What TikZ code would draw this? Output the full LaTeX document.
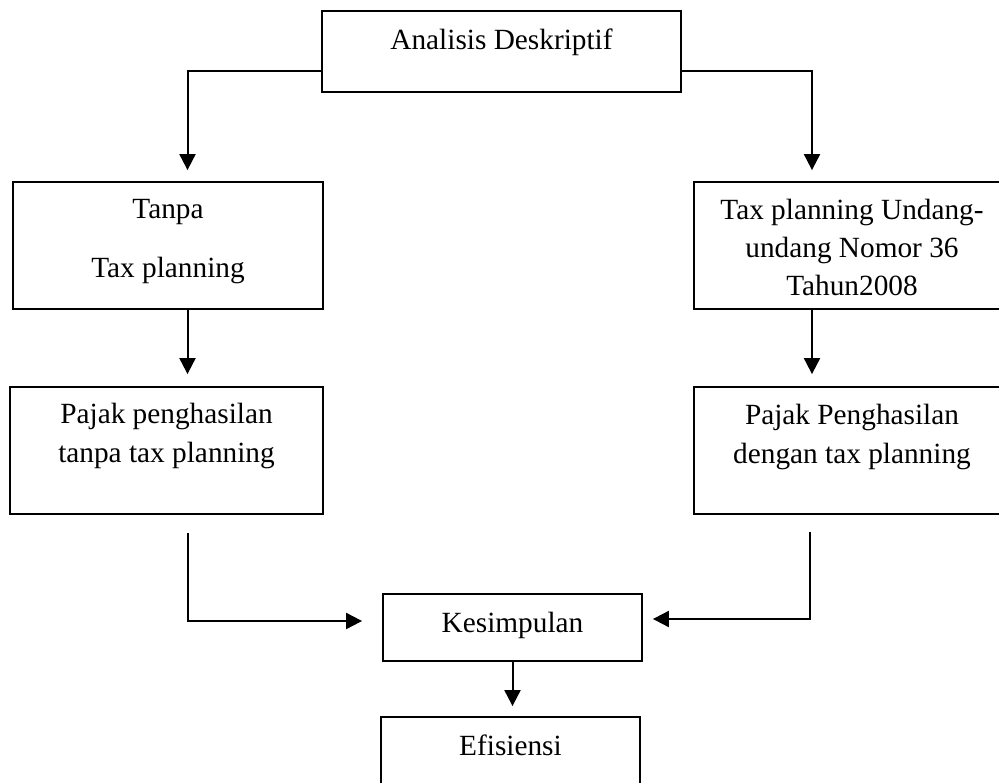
\documentclass[tikz,border=0pt]{standalone}
\usepackage{fontspec}
\setmainfont{Liberation Serif}
\usetikzlibrary{arrows.meta,calc}
\begin{document}
\begin{tikzpicture}[x=1pt,y=-1pt,
  box/.style={draw,line width=1.8pt,rectangle,inner sep=0pt},
  lbl/.style={font=\fontsize{29.3}{37}\selectfont,inner sep=0pt,anchor=base},
  conn/.style={line width=2pt},
  arr/.style={conn,-{Triangle[width=16pt,length=16pt]}}]
\useasboundingbox (0,0) rectangle (999,783);
\clip (0,0) rectangle (999,783);
% boxes
\node[box,minimum width=359pt,minimum height=81pt] (top) at (501.5,51.5) {};
\node[box,minimum width=310pt,minimum height=127pt] (left1) at (168,245.5) {};
\node[box,minimum width=316pt,minimum height=127pt] (right1) at (852,245.5) {};
\node[box,minimum width=313pt,minimum height=127pt] (left2) at (166.5,450.5) {};
\node[box,minimum width=316pt,minimum height=127pt] (right2) at (852,450.5) {};
\node[box,minimum width=259pt,minimum height=67pt] (kes) at (512.5,627.5) {};
\node[box,minimum width=259pt,minimum height=93pt] (efi) at (510.5,763.5) {};
% texts
\node[lbl] (ttop) at (501.5,50) {Analisis Deskriptif};
\node[lbl] (tl1a) at (168,219) {Tanpa};
\node[lbl] (tl1b) at (168,278) {Tax planning};
\node[lbl] (tr1a) at (852,220) {Tax planning Undang-};
\node[lbl] (tr1b) at (852,258) {undang Nomor 36};
\node[lbl] (tr1c) at (852,296) {Tahun2008};
\node[lbl] (tl2a) at (166.5,424) {Pajak penghasilan};
\node[lbl] (tl2b) at (166.5,463) {tanpa tax planning};
\node[lbl] (tr2a) at (852,425) {Pajak Penghasilan};
\node[lbl] (tr2b) at (852,464) {dengan tax planning};
\node[lbl] (tkes) at (512.5,632) {Kesimpulan};
\node[lbl] (tefi) at (510.5,755) {Efisiensi};
% helper coordinates
\coordinate (ytop) at (0,71);
\coordinate (xl) at (187.5,0);
\coordinate (xr) at (812,0);
\coordinate (ybot) at (0,621);
% connectors
\draw[arr] (top.west |- ytop) -| ($(left1.north -| xl)+(0,-11)$);
\draw[arr] (top.east |- ytop) -| ($(right1.north -| xr)+(0,-11)$);
\draw[arr] (left1.south -| xl) -- ($(left2.north -| xl)+(0,-12)$);
\draw[arr] (right1.south -| xr) -- ($(right2.north -| xr)+(0,-12)$);
\draw[arr] ($(left2.south -| xl)+(0,18)$) |- ($(kes.west |- ybot)+(-20,0)$);
\draw[arr] ($(right2.south -| xr)+(-2,17)$) |- ($(kes.east |- ybot)+(10,-2)$);
\draw[arr] (kes.south) -- ($(efi.north)+(2,-10)$);
\end{tikzpicture}
\end{document}
